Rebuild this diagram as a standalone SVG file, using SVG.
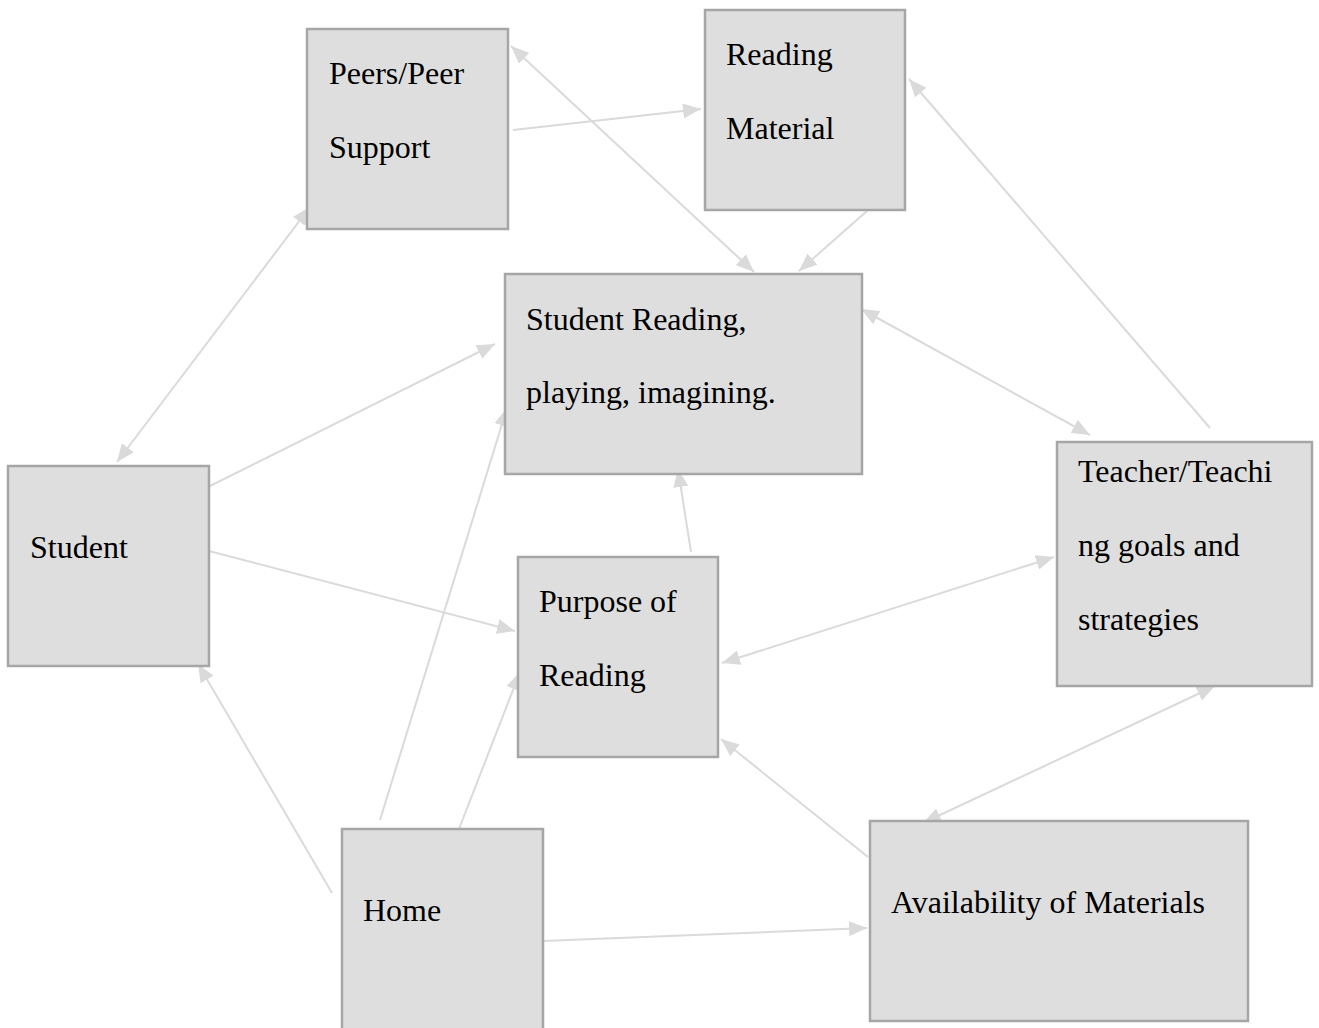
<svg xmlns="http://www.w3.org/2000/svg" width="1319" height="1028" viewBox="0 0 1319 1028">
  <style>
    .box { fill: #dedede; stroke: #a6a6a6; stroke-width: 2.5; }
    .lbl { font-family: "Liberation Serif", "Times New Roman", serif; font-size: 32px; fill: #000; }
    .edge { stroke: #dadada; stroke-width: 2; fill: none; }
    .one { marker-end: url(#head); }
    .two { marker-start: url(#head); marker-end: url(#head); }
  </style>
  <defs>
    <marker id="head" markerUnits="userSpaceOnUse" markerWidth="18" markerHeight="15" refX="18" refY="7.5" orient="auto-start-reverse" viewBox="0 0 18 15">
      <path d="M0,0 L18,7.5 L0,15 z" fill="#dadada"/>
    </marker>
  </defs>
  <rect width="1319" height="1028" fill="#ffffff"/>

  <g id="connectors">
    <line class="edge two" x1="310" y1="207" x2="117" y2="462"/>
    <line class="edge one" x1="513" y1="130" x2="701" y2="109"/>
    <line class="edge two" x1="511" y1="46" x2="754" y2="272"/>
    <line class="edge one" x1="867" y1="211" x2="799" y2="271"/>
    <line class="edge two" x1="861" y1="309" x2="1090" y2="435"/>
    <line class="edge one" x1="1210" y1="428" x2="909" y2="79"/>
    <line class="edge one" x1="210" y1="486" x2="495" y2="344"/>
    <line class="edge one" x1="209" y1="551" x2="515" y2="631"/>
    <line class="edge one" x1="332" y1="893" x2="198" y2="664"/>
    <line class="edge one" x1="380" y1="820" x2="507" y2="408"/>
    <line class="edge one" x1="459" y1="829" x2="520" y2="672"/>
    <line class="edge one" x1="691" y1="552" x2="678" y2="469"/>
    <line class="edge two" x1="722" y1="663" x2="1054" y2="557"/>
    <line class="edge one" x1="868" y1="857" x2="721" y2="739"/>
    <line class="edge two" x1="923" y1="823" x2="1215" y2="686"/>
    <line class="edge one" x1="543" y1="941" x2="867" y2="928"/>
  </g>

  <g id="peers">
    <rect class="box" x="307" y="29" width="201" height="200"/>
    <text class="lbl" x="329" y="84">Peers/Peer</text>
    <text class="lbl" x="329" y="158">Support</text>
  </g>
  <g id="reading-material">
    <rect class="box" x="705" y="10" width="200" height="200"/>
    <text class="lbl" x="726" y="65">Reading</text>
    <text class="lbl" x="726" y="139">Material</text>
  </g>
  <g id="student-reading">
    <rect class="box" x="505" y="274" width="357" height="200"/>
    <text class="lbl" x="526" y="330">Student Reading,</text>
    <text class="lbl" x="526" y="403">playing, imagining.</text>
  </g>
  <g id="student">
    <rect class="box" x="8" y="466" width="201" height="200"/>
    <text class="lbl" x="30" y="558">Student</text>
  </g>
  <g id="purpose">
    <rect class="box" x="518" y="557" width="200" height="200"/>
    <text class="lbl" x="539" y="612">Purpose of</text>
    <text class="lbl" x="539" y="686">Reading</text>
  </g>
  <g id="teacher">
    <rect class="box" x="1057" y="442" width="255" height="244"/>
    <text class="lbl" x="1078" y="482">Teacher/Teachi</text>
    <text class="lbl" x="1078" y="556">ng goals and</text>
    <text class="lbl" x="1078" y="630">strategies</text>
  </g>
  <g id="home">
    <rect class="box" x="342" y="829" width="201" height="205"/>
    <text class="lbl" x="363" y="921">Home</text>
  </g>
  <g id="availability">
    <rect class="box" x="870" y="821" width="378" height="200"/>
    <text class="lbl" x="891" y="913">Availability of Materials</text>
  </g>
</svg>
